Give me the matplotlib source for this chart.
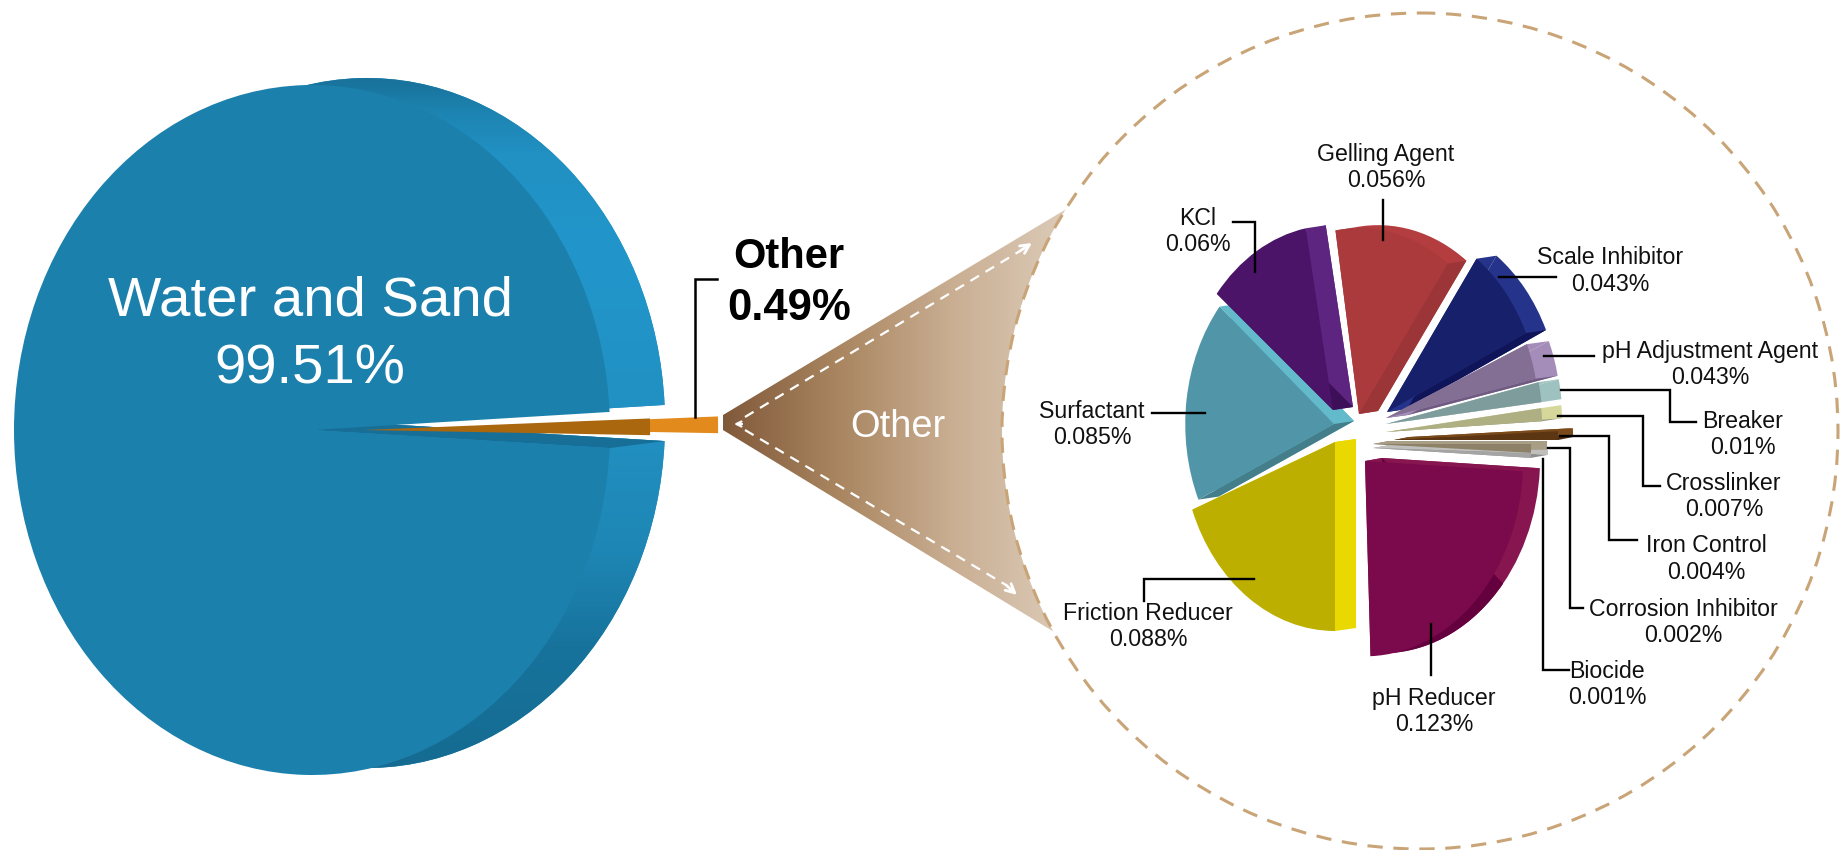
import numpy as np
import matplotlib
matplotlib.use("Agg")
import matplotlib.pyplot as plt
from matplotlib.colors import LinearSegmentedColormap
from matplotlib.patches import Circle, Polygon

W, H = 1841, 850
plt.rcParams['font.family'] = ['Liberation Sans', 'DejaVu Sans']

# data
outer_names = ['Water and Sand', 'Other']
outer_text = ['99.51%', '0.49%']
outer_sweep = [354.0, 2.9]   # degrees as drawn in the picture

names = ['pH Reducer', 'Friction Reducer', 'Surfactant', 'KCl', 'Gelling Agent',
         'Scale Inhibitor', 'pH Adjustment Agent', 'Breaker', 'Crosslinker',
         'Iron Control', 'Corrosion Inhibitor', 'Biocide']
pct_text = ['0.123%', '0.088%', '0.085%', '0.06%', '0.056%', '0.043%',
            '0.043%', '0.01%', '0.007%', '0.004%', '0.002%', '0.001%']
sweep = [85, 69, 64, 40.5, 45, 29.5, 11, 6, 3.9, 2.5, 2.6, 1.4]   # degrees as drawn

# layout of the small pie
start_deg = [272, 201, 140.3, 100.5, 54, 24.7, 12, 6.5, 3.2, 0, 357.4, 357.1]
tips = [(1365, 461), (1335, 442), (1334, 424), (1333, 410), (1359, 414), (1387, 412),
        (1386, 418), (1386, 424), (1386, 432), (1394, 440), (1373, 444), (1373, 448)]
radii = [.93, .9, .875, .88, .885, .9, .9, .92, .92, .965, .93, .93]
shifts = [17, 21, 20, 20, 19, 20, 22, 20, 20, 15, 16, 17]
main_col = ['#7A0A4B', '#BCAF00', '#5096A8', '#4B1468', '#AB3A3C', '#17216B',
            '#836E94', '#7F9C9C', '#AEAF82', '#5C3512', '#8D8167', '#A4A4A4']
rim_col = ['#87154F', '#E9D900', '#62BACB', '#5D2580', '#B33D3F', '#25338A',
           '#A48DB8', '#9DC2BF', '#D6D79A', '#7A4A1B', '#A89D85', '#C0BFBC']
low_col = ['#65003F', '#BCAF00', '#437E8A', '#3D0F58', '#9C3537', '#10155A',
           '#6F5A82', '#6C8A8A', '#96976E', '#4A2A0D', '#776C55', '#8E8E8E']

label_pos = [(1434, 698), (1148, 613), (1092, 411), (1198, 218), (1386, 154), (1610, 258),
             (1710, 351), (1743, 421), (1724, 483), (1706, 546), (1683, 609), (1607, 671)]
leaders = [
    [(1431, 675), (1431, 624)],
    [(1144, 601), (1144, 579), (1254, 579)],
    [(1152, 413), (1205, 413)],
    [(1233, 222), (1255, 222), (1255, 272)],
    [(1383, 200), (1383, 240)],
    [(1556, 277), (1499, 277)],
    [(1594, 355.5), (1544, 355.5)],
    [(1696, 422), (1670, 422), (1670, 390), (1561, 390)],
    [(1660, 486), (1643, 486), (1643, 416), (1558, 416)],
    [(1637, 540), (1609, 540), (1609, 435.5), (1560, 435.5)],
    [(1583, 608), (1570, 608), (1570, 448), (1548, 448)],
    [(1569, 670), (1543, 670), (1543, 459)],
]


def pixel_axes(zorder):
    a = fig.add_axes([0, 0, 1, 1], zorder=zorder)
    a.set_xlim(0, W)
    a.set_ylim(H, 0)
    a.axis('off')
    a.patch.set_alpha(0)
    return a


class EllipseAxes:
    """full figure axes where the unit circle is an ellipse in pixels"""
    def __init__(self, cx, cy, rx, ry, zorder):
        self.cx, self.cy, self.rx, self.ry = cx, cy, rx, ry
        self.ax = fig.add_axes([0, 0, 1, 1], zorder=zorder)

    def xy(self, px, py):
        return (px - self.cx) / self.rx, (self.cy - py) / self.ry

    def wedge(self, c, r, start, deg, color, z):
        w, _ = self.ax.pie([deg / 360], normalize=False, startangle=start, center=c, radius=r,
                           colors=[color], wedgeprops=dict(linewidth=0, zorder=z))
        return w[0]

    def edge(self, c, r, ang, d, color, z):
        e = (c[0] + r * np.cos(np.radians(ang)), c[1] + r * np.sin(np.radians(ang)))
        pts = [c, e, (e[0] + d[0], e[1] + d[1]), (c[0] + d[0], c[1] + d[1])]
        self.ax.add_patch(Polygon(pts, closed=True, fc=color, ec='none', zorder=z))

    def finish(self):
        self.ax.set_aspect('auto')
        self.ax.set_xlim(self.xy(0, 0)[0], self.xy(W, 0)[0])
        self.ax.set_ylim(self.xy(0, H)[1], self.xy(0, 0)[1])
        self.ax.axis('off')
        self.ax.patch.set_alpha(0)


fig = plt.figure(figsize=(W / 100, H / 100), dpi=100, facecolor='white')

# background: cone and dashed circle
base = pixel_axes(0)
ccx, ccy, cr = 1420, 431, 418
a0 = np.arctan2(208 - ccy, 1063 - ccx) % (2 * np.pi)
a1 = np.arctan2(632 - ccy, 1052 - ccx) % (2 * np.pi)
arc = np.linspace(a1, a0, 60)
cone_pts = [(723, 430), (723, 415)] + list(zip(ccx + cr * np.cos(arc[::-1]), ccy + cr * np.sin(arc[::-1])))
cone = Polygon(cone_pts, closed=True, fc='none', ec='none')
base.add_patch(cone)
cone_map = LinearSegmentedColormap.from_list('cone', ['#80593A', '#A98560', '#C9AE92', '#DCCBB8'])
im = base.imshow(np.linspace(0, 1, 256).reshape(1, -1), cmap=cone_map, aspect='auto',
                 extent=(723, 1066, 640, 200))
im.set_clip_path(cone)
base.set_xlim(0, W)
base.set_ylim(H, 0)
base.add_patch(Circle((ccx, ccy), cr, fc='none', ec='#C9A477', lw=2.2, ls=(0, (5, 3.5)), zorder=3))
for first, end, before in [((745, 417), (1032, 243), (1020, 251)), ((745, 430), (1017, 595), (1006, 585))]:
    base.plot([first[0], before[0]], [first[1], before[1]], color='white', lw=1.6, ls=(0, (4.5, 3.4)), zorder=4)
    base.annotate('', xy=end, xytext=before, zorder=4,
                  arrowprops=dict(arrowstyle='->', color='white', lw=2, mutation_scale=16,
                                  shrinkA=0, shrinkB=0))
base.annotate('', xy=(734, 424), xytext=(742, 424), zorder=4,
              arrowprops=dict(arrowstyle='->', color='white', lw=1.6, mutation_scale=9,
                              shrinkA=0, shrinkB=0))
base.text(898, 427, outer_names[1], color='white', fontsize=27.4, ha='center', va='center', zorder=5)

# big pie
big = EllipseAxes(312, 430, 298, 345, 1)
rim_d = (55 / big.rx, 7 / big.ry)
blue_start = 3.0
rim = big.wedge(rim_d, 1, blue_start, outer_sweep[0], '#2190C2', 1)
rim_map = LinearSegmentedColormap.from_list('rim', [(0, '#19739C'), (.02, '#19739C'), (.06, '#1D84B1'),
                                                    (.116, '#2190C2'), (.25, '#2296CB'), (.5, '#2190C2'),
                                                    (.67, '#1E86B4'), (.8, '#17739C'), (1, '#156A90')])
grad = big.ax.imshow(np.linspace(0, 1, 256).reshape(-1, 1), cmap=rim_map, aspect='auto',
                     extent=(-1.1, 1.4, -1.05, 1.05), zorder=2)
grad.set_clip_path(rim)
big.edge((0, 0), 1, blue_start + outer_sweep[0], rim_d, '#176F97', 3)
big.wedge((0, 0), 1, blue_start, outer_sweep[0], '#1C80AD', 4)
org_c = big.xy(364, 430)
org_d = (68 / big.rx, 2 / big.ry)
big.wedge((org_c[0] + org_d[0], org_c[1] + org_d[1]), .96, -.9, outer_sweep[1], '#E38A1C', 5)
big.wedge(org_c, .96, -.9, outer_sweep[1], '#AB670E', 6)
big.finish()

# small pie, each slice pulled out on its own
small = EllipseAxes(1360, 430, 170, 210, 2)
for i in range(len(names)):
    c = small.xy(*tips[i])
    d = (shifts[i] / small.rx, 3 / small.ry)
    z = 1 + i * .01
    small.wedge((c[0] + d[0], c[1] + d[1]), radii[i], start_deg[i], sweep[i], rim_col[i], z)
    end = start_deg[i] + sweep[i]
    # cut faces: the one looking up is lit, the one looking down is in shade
    for ang, normal in [(start_deg[i], start_deg[i] - 90), (end, end + 90)]:
        lit = np.sin(np.radians(normal)) > -.05
        small.edge(c, radii[i], ang, d, rim_col[i] if lit else low_col[i], z)
    small.wedge(c, radii[i], start_deg[i], sweep[i], main_col[i], 2 + i * .01)
# lower part of the pH Reducer outer face is darker
pc = small.xy(*tips[0])
small.wedge((pc[0] + shifts[0] / small.rx, pc[1] + 3 / small.ry), radii[0], start_deg[0], 48, low_col[0], 1.5)
small.finish()

# text and leader lines
top = pixel_axes(3)
for name, pct, pos, leader in zip(names, pct_text, label_pos, leaders):
    top.text(pos[0], pos[1], name, fontsize=16.7, ha='center', va='center', color='#111111')
    top.text(pos[0], pos[1] + 26.5, pct, fontsize=16.7, ha='center', va='center', color='#111111')
    xs, ys = zip(*leader)
    top.plot(xs, ys, color='black', lw=1.7, solid_joinstyle='miter')

top.text(310, 302, outer_names[0], color='white', fontsize=40.6, ha='center', va='center')
top.text(310, 369, outer_text[0], color='white', fontsize=40.6, ha='center', va='center')
top.text(789, 257, outer_names[1], color='black', fontsize=30, fontweight='bold', ha='center', va='center')
top.text(789, 308, outer_text[1], color='black', fontsize=31.5, fontweight='bold', ha='center', va='center')
top.plot([717, 695, 695], [279, 279, 417], color='black', lw=1.8, solid_joinstyle='miter')

fig.savefig('out.png', dpi=100)
